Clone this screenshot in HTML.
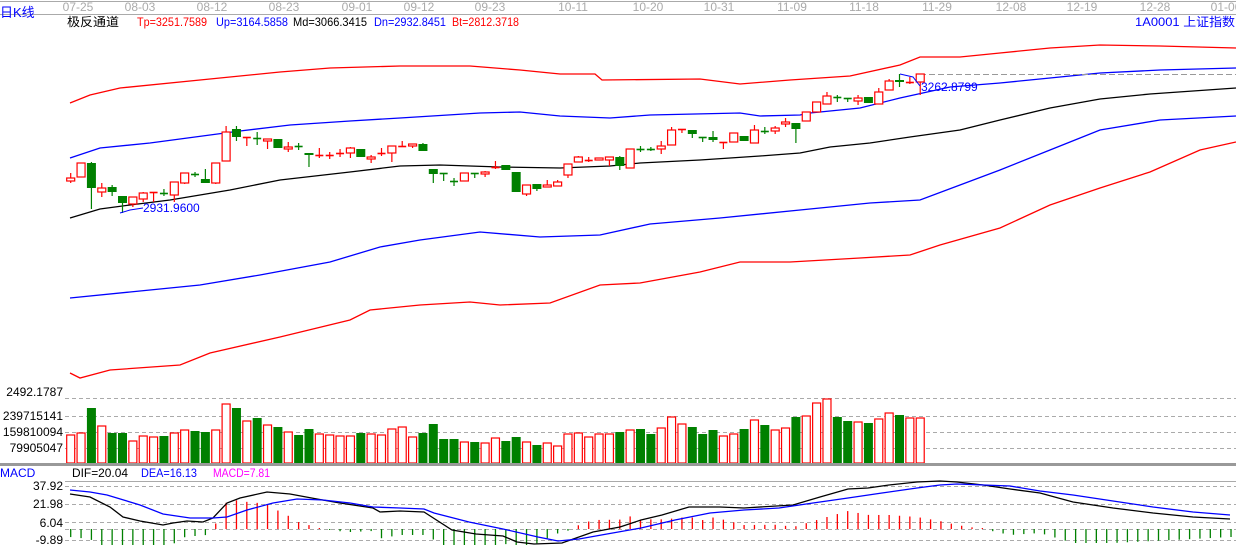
<!DOCTYPE html>
<html><head><meta charset="utf-8">
<style>
html,body{margin:0;padding:0;background:#fff;width:1236px;height:545px;overflow:hidden}
svg{display:block}
text{font-family:"Liberation Sans","Noto Sans CJK SC",sans-serif;font-size:12px}
</style></head><body>
<svg id="s" width="1236" height="545" xmlns="http://www.w3.org/2000/svg">
<rect width="1236" height="545" fill="#fff"/>
<line x1="0" y1="1.5" x2="1236" y2="1.5" stroke="#aaa"/>
<line x1="0" y1="14.5" x2="1236" y2="14.5" stroke="#aaa"/>
<g fill="#aaa" style="font-size:10px" text-anchor="middle">
<text x="78" y="11">07-25</text><text x="140" y="11">08-03</text><text x="212" y="11">08-12</text><text x="284" y="11">08-23</text><text x="357" y="11">09-01</text><text x="419" y="11">09-12</text><text x="490" y="11">09-23</text><text x="573" y="11">10-11</text><text x="648" y="11">10-20</text><text x="719" y="11">10-31</text><text x="792" y="11">11-09</text><text x="864" y="11">11-18</text><text x="937" y="11">11-29</text><text x="1011" y="11">12-08</text><text x="1082" y="11">12-19</text><text x="1155" y="11">12-28</text><text x="1226" y="11">01-06</text>
</g>
<text x="0" y="17" fill="#00f" style="font-size:13px">日K线</text>
<text x="67" y="26" fill="#000" textLength="52" lengthAdjust="spacingAndGlyphs">极反通道</text>
<text x="137" y="26" fill="#f00" textLength="70" lengthAdjust="spacingAndGlyphs">Tp=3251.7589</text>
<text x="216" y="26" fill="#00f" textLength="72" lengthAdjust="spacingAndGlyphs">Up=3164.5858</text>
<text x="293" y="26" fill="#000" textLength="74" lengthAdjust="spacingAndGlyphs">Md=3066.3415</text>
<text x="374" y="26" fill="#00f" textLength="72" lengthAdjust="spacingAndGlyphs">Dn=2932.8451</text>
<text x="452" y="26" fill="#f00" textLength="67" lengthAdjust="spacingAndGlyphs">Bt=2812.3718</text>
<text x="1135" y="26" fill="#00f" textLength="100" lengthAdjust="spacingAndGlyphs">1A0001  上证指数</text>
<g id="bands" fill="none" stroke-width="1.3"></g>
<line x1="920" y1="74.5" x2="1236" y2="74.5" stroke="#999" stroke-dasharray="6,3"/>
<g id="cand"></g>
<polyline points="120,213 130,210 143,208" fill="none" stroke="#00f"/>
<text x="143" y="212" fill="#00f">2931.9600</text>
<polyline points="900,74 913,77 920,86" fill="none" stroke="#00f"/>
<text x="921" y="91" fill="#00f">3262.8799</text>
<g id="vgrid" stroke="#aaa" stroke-dasharray="4,3"></g>
<g fill="#000" text-anchor="end" style="font-size:11.5px">
<text x="63" y="396">2492.1787</text><text x="63" y="420">239715141</text><text x="63" y="436">159810094</text><text x="63" y="452">79905047</text>
<text x="63" y="490">37.92</text><text x="63" y="508">21.98</text><text x="63" y="527">6.04</text><text x="63" y="544">-9.89</text>
</g>
<g id="vol"></g>
<rect x="0" y="463" width="1236" height="3" fill="#999"/>
<text x="0" y="477" fill="#00f">MACD</text>
<text x="72" y="477" fill="#000" textLength="56" lengthAdjust="spacingAndGlyphs">DIF=20.04</text>
<text x="141" y="477" fill="#00f" textLength="56" lengthAdjust="spacingAndGlyphs">DEA=16.13</text>
<text x="213" y="477" fill="#f0f" textLength="57" lengthAdjust="spacingAndGlyphs">MACD=7.81</text>
<line x1="65" y1="481.5" x2="1236" y2="481.5" stroke="#aaa"/>
<g id="macd"></g>
</svg>
<script>
(function(){
var NS="http://www.w3.org/2000/svg";
function el(p,t,a){var e=document.createElementNS(NS,t);for(var k in a)e.setAttribute(k,a[k]);document.getElementById(p).appendChild(e);return e;}
function pl(p,pts,c,w){el(p,"polyline",{points:pts.map(function(q){return q.join(",")}).join(" "),stroke:c,fill:"none","stroke-width":w||1.3});}
pl("bands",[[70,103],[90,95],[120,88],[200,80],[280,72],[330,68],[400,66],[470,66],[520,70],[560,74],[595,74],[602,80],[700,79],[740,84],[790,80],[850,76],[900,65],[920,57],[960,57],[1000,53],[1050,48],[1100,45],[1160,46],[1236,48]],"#f00");
pl("bands",[[70,158],[100,148],[150,143],[240,131],[290,125],[350,121],[400,118],[480,113],[520,112],[560,116],[610,118],[650,115],[740,113],[760,116],[800,115],[810,113],[860,108],[900,98],[950,87],[1000,83],[1050,78],[1100,73],[1160,70],[1236,68]],"#00f");
pl("bands",[[70,218],[100,209],[130,205],[170,200],[230,190],[280,180],[350,172],[400,166],[440,165],[500,167],[560,168],[610,166],[640,163],[700,160],[760,156],[800,153],[830,147],[870,143],[910,137],[960,130],[1000,120],[1050,108],[1100,99],[1150,94],[1236,88]],"#000");
pl("bands",[[70,298],[130,292],[200,285],[260,275],[330,262],[380,247],[420,240],[480,232],[540,237],[600,235],[650,224],[720,218],[800,210],[870,203],[920,200],[960,185],[1000,170],[1050,150],[1100,130],[1160,120],[1236,116]],"#00f");
pl("bands",[[70,373],[80,378],[110,370],[180,365],[210,353],[280,337],[350,320],[370,310],[420,305],[470,302],[500,305],[550,303],[600,285],[640,283],[700,272],[740,262],[790,262],[860,258],[910,255],[940,245],[1000,228],[1050,205],[1100,188],[1150,172],[1200,150],[1236,142]],"#f00");
var C=[["r",178,181,173,183],["r",163,177,163,177],["g",163,188,162,209],["r",188,192,183,197],["g",187,192,185,196],["g",196,203,196,213],["r",197,204,197,207],["r",193,199,192,202],["r",192,193,192,202],["g",193,193.5,189,196],["r",182,195,182,202],["r",173,183,173,184],["g",174,174.5,172,177],["g",179,183,169,183],["r",163,183,163,184],["r",132,161,126,161],["g",129,137,126,141],["r",137,137.5,137,146],["g",138,138.5,132,145],["r",139,141,139,149],["g",139,148,139,148],["r",147,149,142,152],["g",146,146.5,143,150],["g",153,155,153,167],["r",155,155.5,148,158],["r",155,155.5,152,159],["r",153,153.5,149,157],["r",148,153,147,158],["g",149,157,149,157],["r",157,159,155,163],["r",153,153.5,148,156],["r",146,153,146,162],["r",146,146.5,141,147],["r",144,146,144,148],["g",144,151,143,151],["g",169,174,169,183],["g",173,173.5,173,181],["g",181,182,178,186],["r",173,181,173,181],["g",173,174,173,178],["r",172,174,171,177],["r",167,167.5,161,169],["g",165,170,165,170],["g",172,192,172,192],["r",185,194,185,196],["g",184,189,184,191],["r",185,187,180,187],["r",182,186,180,186],["r",164,175,164,178],["r",157,162,156,162],["r",160,160.5,157,162],["r",158,160,158,160],["r",157,160,157,166],["g",157,166,156,170],["r",149,168,149,168],["g",149,149.5,146,152],["g",149,149.5,147,151],["r",146,149,141,154],["r",130,145,127,145],["r",129,129.5,129,133],["g",130,134,130,138],["g",137,137.5,137,142],["g",137,140,131,142],["r",142,142.5,142,149],["r",133,142,133,142],["g",136,141,136,141],["r",130,143,125,143],["g",131,131.5,127,134],["r",128,131,126,134],["r",122,124,118,127],["g",123,129,123,143],["r",112,121,112,121],["r",102,112,102,112],["r",96,104,92,104],["g",97,97.5,95,102],["g",98,98.5,98,102],["r",98,101,95,105],["g",97,103,97,103],["r",92,104,88,104],["r",81,90,79,90],["g",80,82,74,87],["r",82,82.5,77,84],["r",74,82,74,95]];
var V=[435,433,408,426,433,433,441,436,437,436,433,430,431,432,430,404,408,421,418,425,427,432,435,429,434,435,436,436,433,434,435,429,427,437,433,424,439,439,442,442,443,438,441,437,442,445,443,446,434,433,437,434,434,432,430,429,434,428,417,424,427,434,430,436,434,429,420,425,430,428,417,416,403,399,417,421,422,423,419,413,415,418,418];
var dx=10.36,x0=70.7;
for(var i=0;i<C.length;i++){
 var x=x0+i*dx,c=C[i],col=c[0]=="r"?"#f00":"#008000";
 var bt=Math.round(c[1]),bb=Math.round(c[2]);
 el("cand","line",{x1:x,y1:c[3],x2:x,y2:c[4],stroke:col,"stroke-width":1.2});
 if(bb-bt<1.5){el("cand","line",{x1:x-4,y1:bt+0.5,x2:x+4,y2:bt+0.5,stroke:col,"stroke-width":1.6});}
 else if(c[0]=="r"){el("cand","rect",{x:x-4,y:bt,width:8,height:bb-bt,fill:"#fff",stroke:col,"stroke-width":1.2});}
 else{el("cand","rect",{x:x-4.5,y:bt,width:9,height:bb-bt,fill:col});}
 if(c[0]=="r")el("vol","rect",{x:x-4,y:V[i],width:8,height:463-V[i],fill:"#fff",stroke:"#f00","stroke-width":1.2});
 else el("vol","rect",{x:x-4.5,y:V[i],width:9,height:463-V[i],fill:"#008000"});
}
[398.5,416.5,432.5,448.5,486.5,504.5,522.5,540.5].forEach(function(y){el("vgrid","line",{x1:65,y1:y,x2:1236,y2:y});});
el("vgrid","line",{x1:65,y1:529.5,x2:1236,y2:529.5});
var K=[[70,494],[90,497],[110,507],[123,517],[140,521],[163,525],[173,523],[187,521],[203,522],[213,518],[227,503],[240,498],[267,492],[290,494],[317,499],[340,503],[373,508],[380,512],[400,511],[424,512],[452,530],[476,534],[503,536],[517,542],[534,544],[562,543],[593,532],[620,527],[641,520],[662,515],[689,507],[720,507],[744,508],[793,505],[820,497],[848,489],[868,488],[889,485],[917,482],[940,481],[957,482],[983,485],[1010,489],[1040,493],[1073,502],[1113,508],[1153,513],[1193,517],[1230,519]];
var B=[[70,490],[90,492],[107,495],[140,505],[163,514],[190,518],[213,518],[227,517],[247,510],[273,503],[297,499],[323,500],[350,503],[373,507],[400,508],[424,509],[434,513],[469,522],[503,529],[538,537],[558,541],[579,539],[607,534],[641,528],[675,520],[710,513],[744,510],[779,508],[813,503],[848,498],[882,493],[917,488],[940,485],[957,484],[1010,486],[1040,491],[1073,495],[1113,501],[1153,507],[1193,512],[1230,515]];
function it(a,x){for(var j=0;j<a.length-1;j++){if(x>=a[j][0]&&x<=a[j+1][0]){var t=(x-a[j][0])/(a[j+1][0]-a[j][0]);return a[j][1]+t*(a[j+1][1]-a[j][1]);}}return a[a.length-1][1];}
for(var i=0;i<113;i++){var x=x0+i*dx;if(x>1232)break;var h=2*(it(B,x)-it(K,x));if(h>14&&x>600&&x<760)h=h*0.6;
 if(Math.abs(h)<1)h=h<0?-1:1;
 el("macd","line",{x1:x,y1:529,x2:x,y2:529-h,stroke:h>0?"#f00":"#008000","stroke-width":1.3});}
pl("macd",K,"#000",1.3);pl("macd",B,"#00f",1.3);
})();
</script>
</body></html>
